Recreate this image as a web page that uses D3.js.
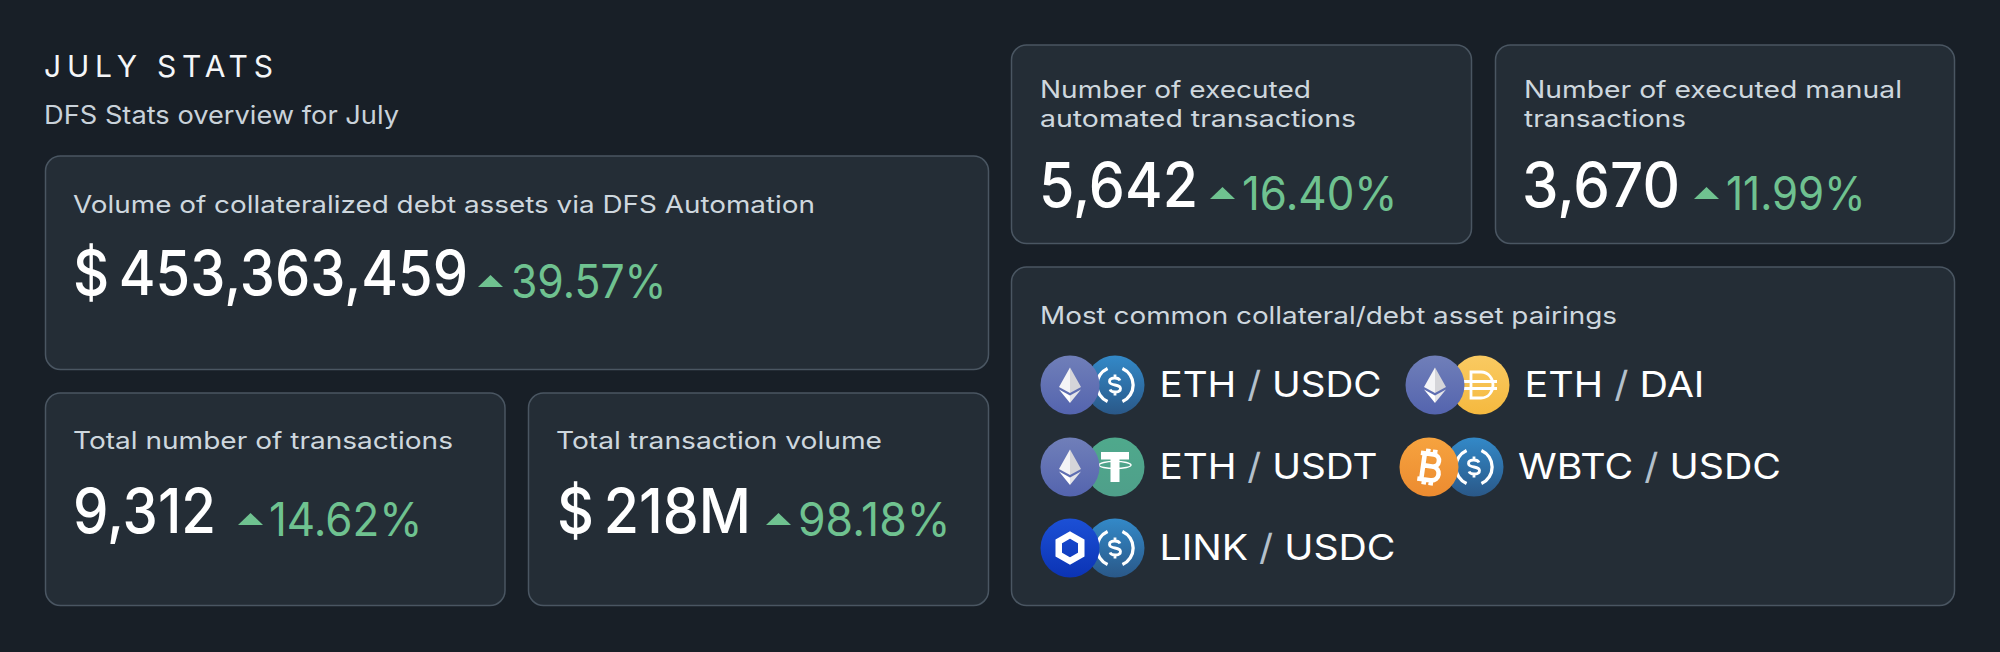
<!doctype html>
<html lang="en">
  <head>
    <title>July stats</title>
    <style>
      html, body { margin: 0; background: #181f27; }
      svg { display: block; }
      text { font-family: Inter, "Noto Sans", sans-serif; }
    </style>
  </head>
  <body>
    <main>
      <div id="viz"></div>
    </main>
    <script src="https://unpkg.com/d3@7/dist/d3.min.js"></script>
    <script>
      // values
      const title = 'JULY STATS'
      const subtitle = 'DFS Stats overview for July'
      const cardLabels = [
        ['Volume of collateralized debt assets via DFS Automation'],
        ['Total number of transactions'],
        ['Total transaction volume'],
        ['Number of executed', 'automated transactions'],
        ['Number of executed manual', 'transactions']
      ]
      const cardValues = ['$ 453,363,459', '9,312', '$ 218M', '5,642', '3,670']
      const cardChanges = [39.57, 14.62, 98.18, 16.40, 11.99]
      const pairsTitle = 'Most common collateral/debt asset pairings'
      const pairCollateral = ['ETH', 'ETH', 'ETH', 'WBTC', 'LINK']
      const pairDebt = ['USDC', 'DAI', 'USDT', 'USDC', 'USDC']

      const width = 2000
      const height = 652
      const boxes = [
        { x: 45, y: 156, w: 943, h: 213.5 },
        { x: 45, y: 393, w: 459.5, h: 212.5 },
        { x: 528, y: 393, w: 460, h: 212.5 },
        { x: 1011, y: 45, w: 460, h: 198.5 },
        { x: 1495, y: 45, w: 459, h: 198.5 },
        { x: 1011, y: 267, w: 943, h: 338.5 }
      ]
      const labelPos = [
        { x: 73, y: 213, lens: [742] },
        { x: 73, y: 449, lens: [380] },
        { x: 556, y: 449, lens: [326] },
        { x: 1040, y: 98, lens: [271, 316] },
        { x: 1524, y: 98, lens: [378, 162] }
      ]
      const valuePos = [
        { x: 73, y: 295, len: 395, size: 62, tri: 478, pctX: 511, pctLen: 155.5, pctY: 298, pctSize: 46 },
        { x: 73, y: 533, len: 143, size: 62, tri: 238, pctX: 269, pctLen: 153.5, pctY: 536, pctSize: 46 },
        { x: 557, y: 533, len: 194, size: 62, tri: 766, pctX: 798, pctLen: 152.5, pctY: 536, pctSize: 46 },
        { x: 1039, y: 207, len: 159, size: 62, tri: 1210, pctX: 1242, pctLen: 155.5, pctY: 210, pctSize: 46 },
        { x: 1522, y: 207, len: 158, size: 62, tri: 1694, pctX: 1726, pctLen: 139.5, pctY: 210, pctSize: 46 }
      ]
      const pairPos = [
        { x: 1070, y: 385, textX: 1159.5, len: 222 },
        { x: 1435, y: 385, textX: 1524.5, len: 180 },
        { x: 1070, y: 467, textX: 1159.5, len: 218 },
        { x: 1429, y: 467, textX: 1518, len: 263 },
        { x: 1070, y: 548, textX: 1159.5, len: 236 }
      ]

      const green = '#6fc290'
      const formatChange = d => d3.format('.2f')(d) + '%'

      const svg = d3.select('#viz').append('svg').attr('width', width).attr('height', height)
      svg.append('rect').attr('width', width).attr('height', height).attr('fill', '#181f27')

      // icon gradients
      const iconColors = {
        ETH: ['#707fb9', '#5464ae'],
        WBTC: ['#f6a33f', '#ec8b30'],
        LINK: ['#1c50d6', '#0b33b4'],
        USDC: ['#3389c8', '#2a5888'],
        DAI: ['#f9ca62', '#f5b93f'],
        USDT: ['#4fa98c', '#4f9f8a']
      }
      const defs = svg.append('defs')
      Object.keys(iconColors).forEach(k => {
        const g = defs.append('linearGradient').attr('id', 'grad' + k)
          .attr('x1', 0).attr('y1', 0).attr('x2', 0).attr('y2', 1)
        g.append('stop').attr('offset', 0).attr('stop-color', iconColors[k][0])
        g.append('stop').attr('offset', 1).attr('stop-color', iconColors[k][1])
      })

      svg.append('text').text(title)
        .attr('x', 44).attr('y', 77)
        .attr('font-size', 30).attr('fill', '#f4f6f8')
        .attr('textLength', 229)

      svg.append('text').text(subtitle)
        .attr('x', 44).attr('y', 124)
        .attr('font-size', 25).attr('fill', '#c9d2da')
        .attr('textLength', 355).attr('lengthAdjust', 'spacingAndGlyphs')

      svg.selectAll('rect.card')
        .data(boxes)
        .enter()
        .append('rect')
          .attr('class', 'card')
          .attr('x', d => d.x + 0.5)
          .attr('y', d => d.y)
          .attr('width', d => d.w)
          .attr('height', d => d.h)
          .attr('rx', 15)
          .attr('fill', '#242d36')
          .attr('stroke', '#4a5662')
          .attr('stroke-width', 1.5)

      const stretch = (sel, len) => sel.attr('textLength', len).attr('lengthAdjust', 'spacingAndGlyphs')

      cardLabels.forEach((lines, i) => {
        const p = labelPos[i]
        lines.forEach((line, j) => {
          svg.append('text').text(line)
            .attr('x', p.x).attr('y', p.y + j * 29)
            .attr('font-size', 24).attr('fill', '#ced7de')
            .call(stretch, p.lens[j])
        })
      })

      const triangle = d3.line()
      cardValues.forEach((value, i) => {
        const p = valuePos[i]
        svg.append('text').text(value)
          .attr('x', p.x).attr('y', p.y)
          .attr('font-size', p.size).attr('font-weight', 500).attr('fill', '#ffffff')
          .attr('word-spacing', -6)
          .call(stretch, p.len)

        svg.append('path')
          .attr('d', triangle([[p.tri, p.pctY - 11], [p.tri + 12.5, p.pctY - 23], [p.tri + 25, p.pctY - 11]]) + 'Z')
          .attr('fill', green)

        svg.append('text').text(formatChange(cardChanges[i]))
          .attr('x', p.pctX).attr('y', p.pctY)
          .attr('font-size', p.pctSize).attr('fill', green)
          .call(stretch, p.pctLen)
      })

      svg.append('text').text(pairsTitle)
        .attr('x', 1040).attr('y', 324)
        .attr('font-size', 24).attr('fill', '#ced7de')
        .call(stretch, 577)

      // icon glyphs, drawn around the centre of a 29.5 radius coin
      const coinR = 29.5
      const usdcArc = d3.arc().innerRadius(16.5).outerRadius(19.8)
      const hex = d3.line()(d3.range(6).map(i => [13 * Math.sin(i * Math.PI / 3), -13 * Math.cos(i * Math.PI / 3)])) + 'Z'
      const glyphs = {
        ETH: g => {
          g.append('path').attr('d', 'M0,-17.5L-11,2L0,8Z').attr('fill', '#f4f4f6')
          g.append('path').attr('d', 'M0,-17.5L11,2L0,8Z').attr('fill', '#d5d5d9')
          g.append('path').attr('d', 'M-11,4.5L0,18L0,10.5Z').attr('fill', '#ffffff')
          g.append('path').attr('d', 'M11,4.5L0,18L0,10.5Z').attr('fill', '#e4e4e8')
        },
        WBTC: g => {
          g.append('path')
            .attr('d', 'M-10,-13H3C11,-13 11,-1 3,-1H-8M3,-1C13,-1 13,13 3,13H-10M-6,-13V13M-3,-18V-13M4,-18V-13M-3,13V18M4,13V18')
            .attr('transform', 'rotate(8)')
            .attr('fill', 'none').attr('stroke', '#fff').attr('stroke-width', 4.6)
        },
        LINK: g => {
          g.append('path').attr('d', hex).attr('fill', 'none').attr('stroke', '#fff').attr('stroke-width', 6.5)
        },
        USDC: g => {
          g.append('path').attr('d', usdcArc({ startAngle: 0.42, endAngle: 2.72 })).attr('fill', '#fff')
          g.append('path').attr('d', usdcArc({ startAngle: -0.42, endAngle: -2.72 })).attr('fill', '#fff')
          g.append('path')
            .attr('d', 'M5,-4.5C3.5,-8 -5.5,-8 -5.5,-3.5C-5.5,1.5 5.5,-1.5 5.5,3.5C5.5,8 -3.5,8 -5,4.5M0,-10.5V-7M0,7V10.5')
            .attr('fill', 'none').attr('stroke', '#fff').attr('stroke-width', 2.8)
        },
        DAI: g => {
          g.append('path')
            .attr('d', 'M-9,-13H1C9,-13 13,-6 13,0C13,6 9,13 1,13H-9ZM-16,-3.5H17M-16,3.5H17')
            .attr('fill', 'none').attr('stroke', '#fff').attr('stroke-width', 2.8)
        },
        USDT: g => {
          g.append('path').attr('d', 'M-14,-15H14V-7.5H4.5V15H-4.5V-7.5H-14Z').attr('fill', '#fff')
          g.append('ellipse').attr('cy', -2).attr('rx', 16).attr('ry', 3.6)
            .attr('fill', 'none').attr('stroke', '#fff').attr('stroke-width', 1.4)
        }
      }

      const drawCoin = (x, y, name) => {
        const g = svg.append('g').attr('transform', `translate(${x},${y})`)
        g.append('circle').attr('r', coinR).attr('fill', `url(#grad${name})`)
        glyphs[name](g)
      }

      pairCollateral.forEach((name, i) => {
        const p = pairPos[i]
        drawCoin(p.x + 45, p.y, pairDebt[i])
        drawCoin(p.x, p.y, name)

        const t = svg.append('text')
          .attr('x', p.textX).attr('y', p.y + 12)
          .attr('font-size', 36).attr('fill', '#ffffff')
          .call(stretch, p.len)
        t.append('tspan').text(name + ' ')
        t.append('tspan').text('/').attr('fill', '#b4c0cb')
        t.append('tspan').text(' ' + pairDebt[i])
      })
    </script>
  </body>
</html>
